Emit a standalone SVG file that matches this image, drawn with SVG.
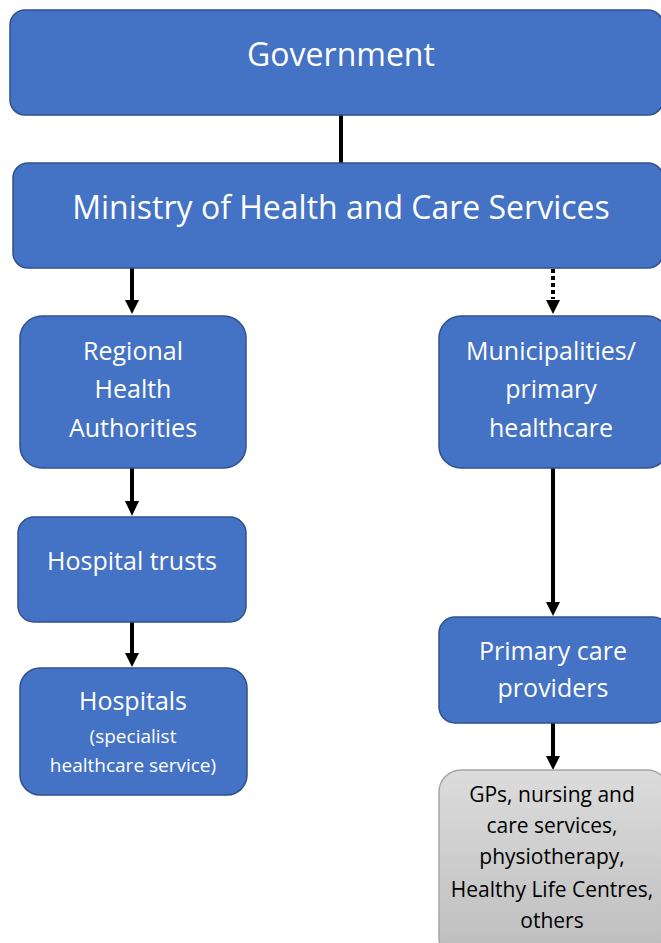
<svg xmlns="http://www.w3.org/2000/svg" width="661" height="943" viewBox="0 0 661 943">
<style>
.blue{fill:#4472C4;stroke:#2F528F;stroke-width:1.5}
.gray{fill:url(#g);stroke:#A6A6A6;stroke-width:1.5}
text{font-family:"Open Sans","Noto Sans","Liberation Sans",sans-serif;text-anchor:middle}
.w{fill:#fff}
.k{fill:#000}
.big{font-size:32px}
.mid{font-size:25px}
.sm{font-size:19px}
.gt{font-size:21px}
.c{stroke:#000;stroke-width:4;fill:none}
.d{stroke-dasharray:4 3}
</style>
<defs>
<linearGradient id="g" x1="0" y1="0" x2="0" y2="1">
<stop offset="0" stop-color="#DCDCDC"/>
<stop offset="1" stop-color="#BDBDBD"/>
</linearGradient>
<marker id="ah" markerUnits="userSpaceOnUse" markerWidth="14" markerHeight="15" refX="7" refY="15" orient="auto-start-reverse" viewBox="0 0 14 15">
<path d="M0,0 L14,0 L7,15 Z" fill="#000"/>
</marker>
</defs>
<g id="connectors">
<line class="c" x1="341" y1="115" x2="341" y2="163"/>
<line class="c" x1="132" y1="268" x2="132" y2="301"/>
<path d="M125,300 L139,300 L132,314 Z" fill="#000"/>
<line class="c d" x1="553" y1="269" x2="553" y2="299"/>
<path d="M546,300 L560,300 L553,314 Z" fill="#000"/>
<line class="c" x1="132" y1="468" x2="132" y2="502"/>
<path d="M125,501 L139,501 L132,516 Z" fill="#000"/>
<line class="c" x1="132" y1="622" x2="132" y2="654"/>
<path d="M125,653 L139,653 L132,667 Z" fill="#000"/>
<line class="c" x1="553" y1="468" x2="553" y2="603"/>
<path d="M546,602 L560,602 L553,616 Z" fill="#000"/>
<line class="c" x1="553" y1="723" x2="553" y2="757"/>
<path d="M546,756 L560,756 L553,770 Z" fill="#000"/>
</g>
<g id="government">
<rect class="blue" x="10" y="10" width="653" height="105" rx="15"/>
<text class="w big" x="341" y="66">Government</text>
</g>
<g id="ministry">
<rect class="blue" x="13" y="163" width="650" height="105" rx="15"/>
<text class="w big" x="341" y="219">Ministry of Health and Care Services</text>
</g>
<g id="regional">
<rect class="blue" x="20" y="316" width="226" height="152" rx="22"/>
<text class="w mid" x="133" y="360">Regional</text>
<text class="w mid" x="133" y="398">Health</text>
<text class="w mid" x="133" y="437">Authorities</text>
</g>
<g id="municipalities">
<rect class="blue" x="439" y="316" width="230" height="152" rx="22"/>
<text class="w mid" x="551" y="360">Municipalities/</text>
<text class="w mid" x="551" y="398">primary</text>
<text class="w mid" x="551" y="437">healthcare</text>
</g>
<g id="hospital-trusts">
<rect class="blue" x="18" y="517" width="228" height="105" rx="16"/>
<text class="w mid" x="132" y="570">Hospital trusts</text>
</g>
<g id="hospitals">
<rect class="blue" x="20" y="668" width="227" height="127" rx="20"/>
<text class="w mid" x="133" y="710">Hospitals</text>
<text class="w sm" x="133" y="743">(specialist</text>
<text class="w sm" x="133" y="772">healthcare service)</text>
</g>
<g id="primary-care">
<rect class="blue" x="439" y="617" width="230" height="106" rx="16"/>
<text class="w mid" x="553" y="660">Primary care</text>
<text class="w mid" x="553" y="697">providers</text>
</g>
<g id="gps">
<rect class="gray" x="439" y="770" width="230" height="190" rx="22"/>
<text class="k gt" x="552" y="802">GPs, nursing and</text>
<text class="k gt" x="552" y="833">care services,</text>
<text class="k gt" x="552" y="864">physiotherapy,</text>
<text class="k gt" x="552" y="897">Healthy Life Centres,</text>
<text class="k gt" x="552" y="928">others</text>
</g>
</svg>
